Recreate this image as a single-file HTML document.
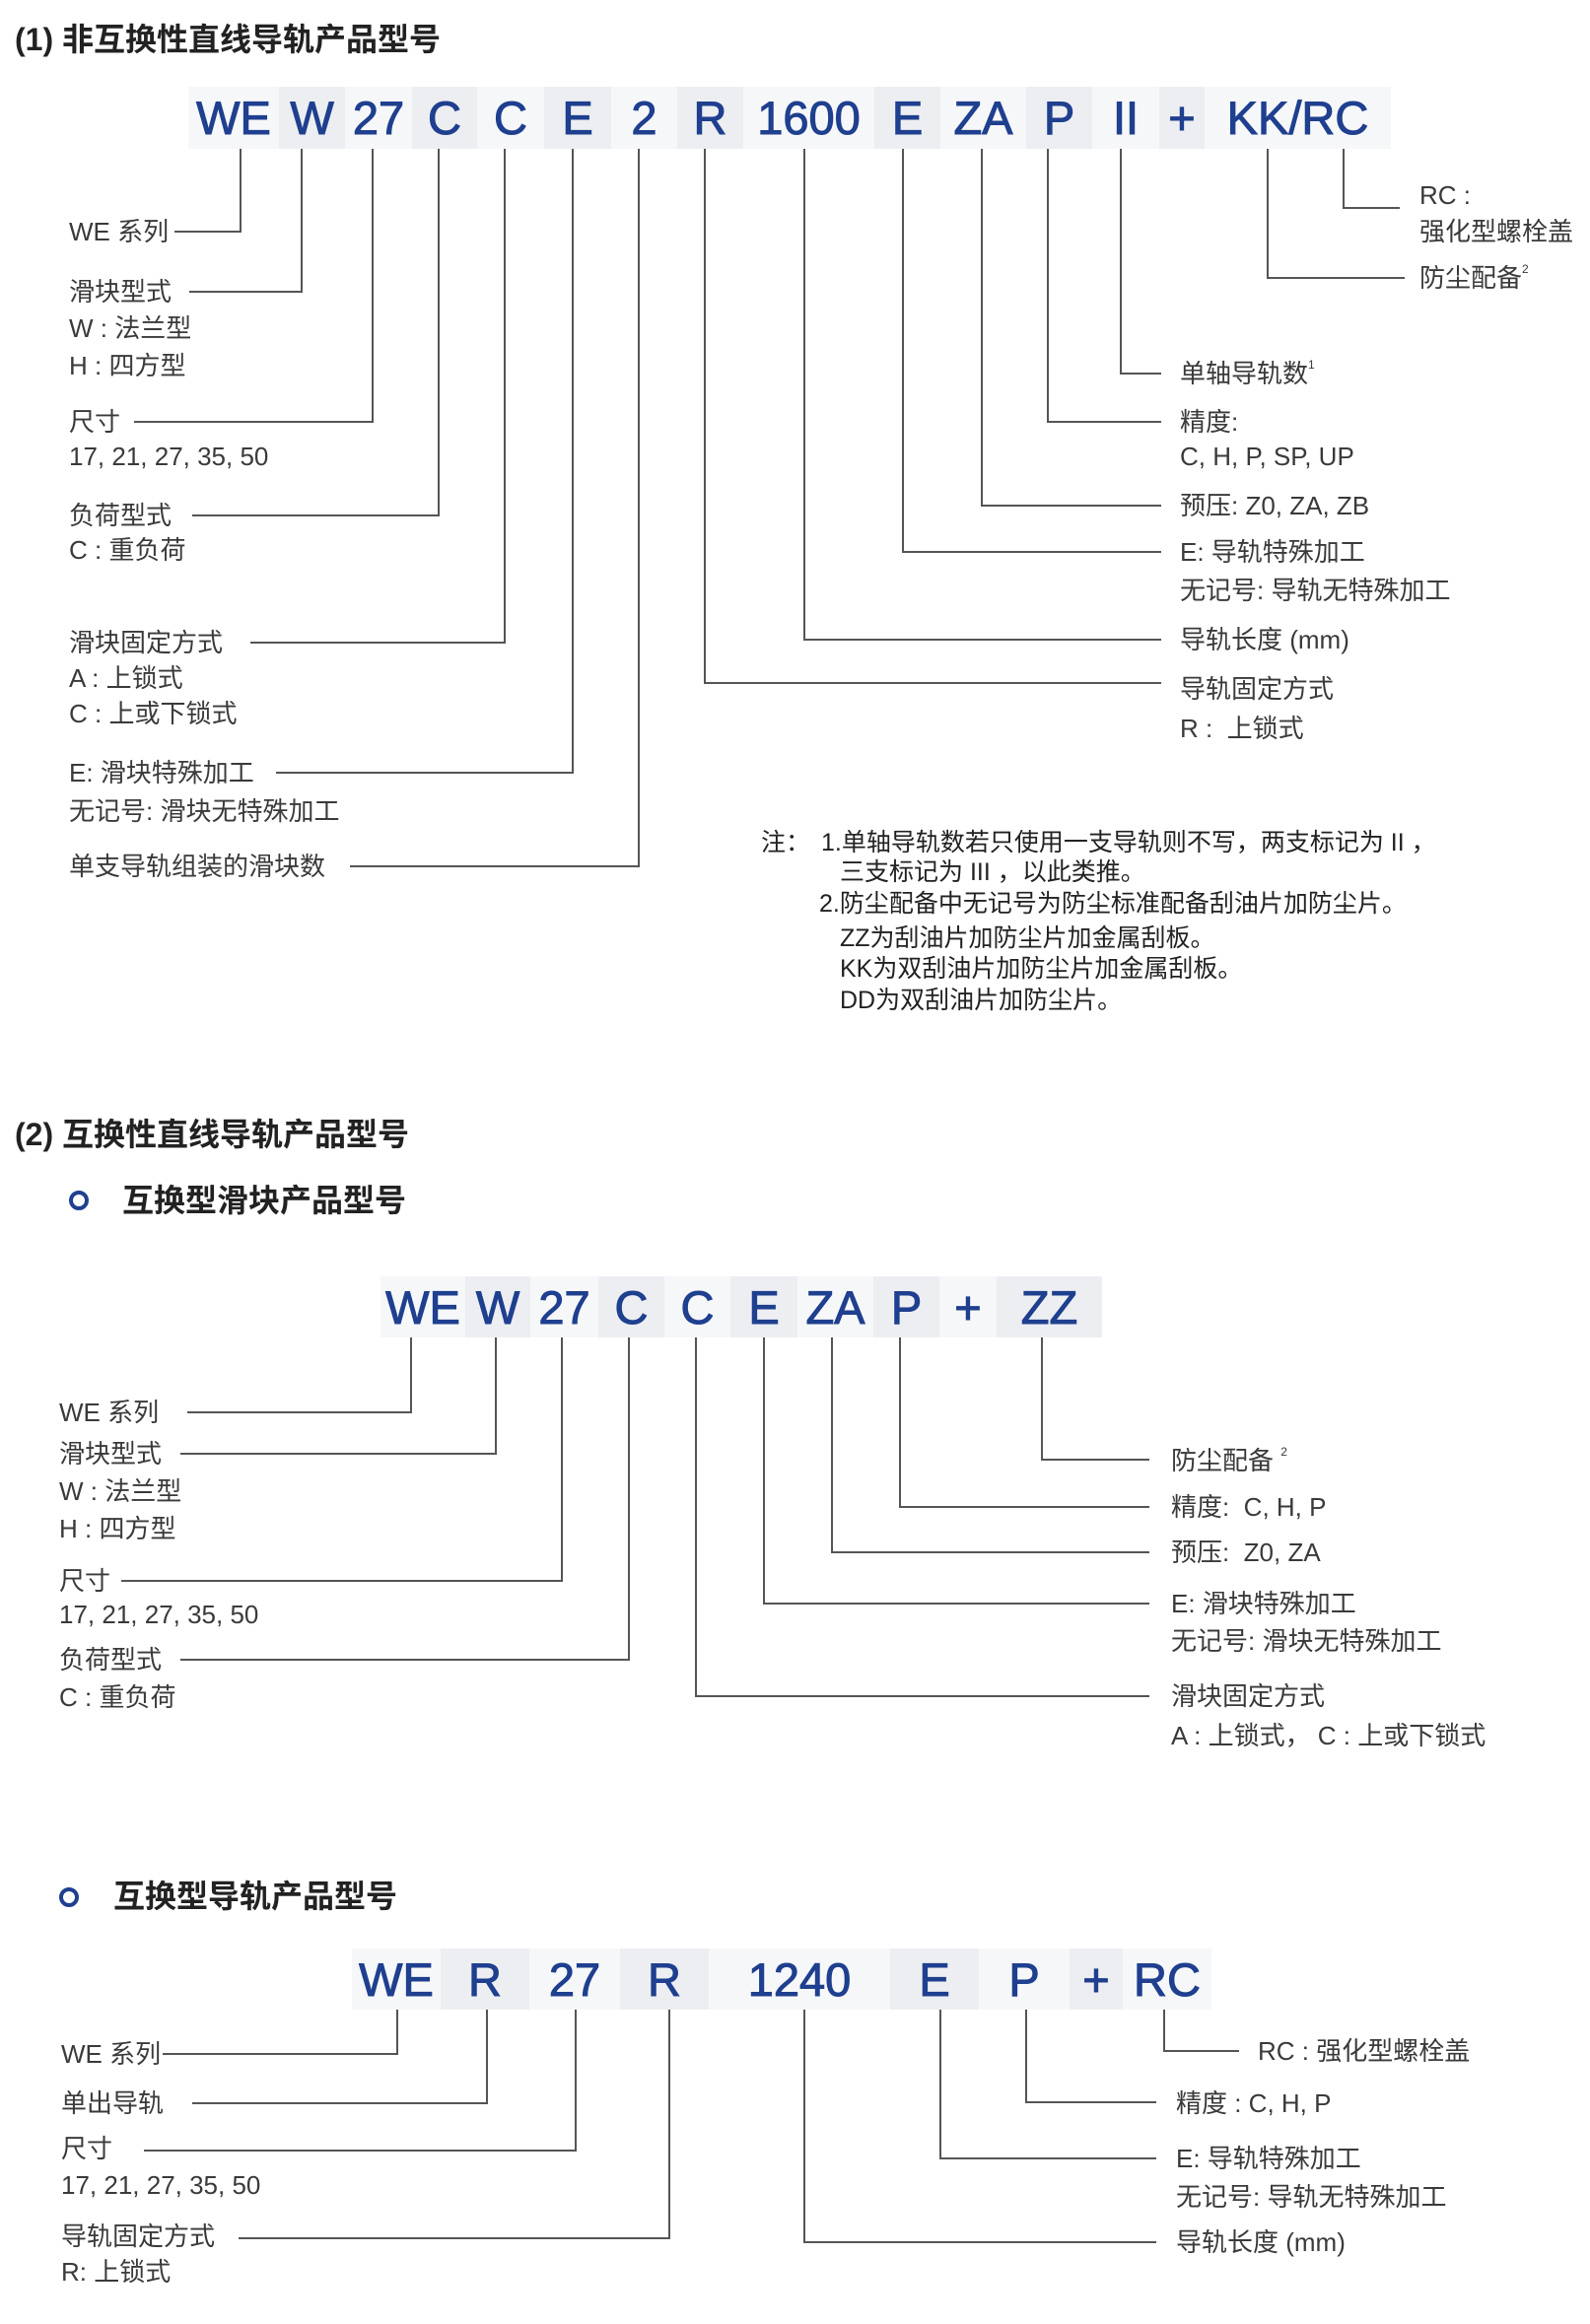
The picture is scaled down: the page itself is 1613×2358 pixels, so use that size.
<!DOCTYPE html>
<html><head><meta charset="utf-8"><style>
*{margin:0;padding:0}
body{width:1613px;height:2358px;background:#fff;position:relative;overflow:hidden;font-family:"Liberation Sans","Noto Sans CJK SC",sans-serif;color:#333}
.t{position:absolute;font-size:26px;line-height:30px;white-space:nowrap;color:#3a3a3a}
.h{position:absolute;font-size:32px;line-height:40px;font-weight:bold;color:#222;white-space:nowrap}
.c{position:absolute;display:flex;align-items:center;justify-content:center;font-size:47px;color:#1f3f8f;-webkit-text-stroke:1px #1f3f8f}
.g{background:#eceef1}.l{background:#f6f7f9}
.ring{position:absolute;width:12px;height:12px;border:4px solid #1f3f8f;border-radius:50%}
.n{position:absolute;font-size:25px;line-height:30px;white-space:nowrap;color:#222}
sup{font-size:12px;vertical-align:top;line-height:12px}
</style></head><body>
<div class="h" style="left:15px;top:20px">(1) 非互换性直线导轨产品型号</div>
<div class="c l" style="left:191px;top:88px;width:92px;height:63px">WE</div>
<div class="c g" style="left:283px;top:88px;width:67px;height:63px">W</div>
<div class="c l" style="left:350px;top:88px;width:68px;height:63px">27</div>
<div class="c g" style="left:418px;top:88px;width:66px;height:63px">C</div>
<div class="c l" style="left:484px;top:88px;width:68px;height:63px">C</div>
<div class="c g" style="left:552px;top:88px;width:68px;height:63px">E</div>
<div class="c l" style="left:620px;top:88px;width:67px;height:63px">2</div>
<div class="c g" style="left:687px;top:88px;width:67px;height:63px">R</div>
<div class="c l" style="left:754px;top:88px;width:133px;height:63px">1600</div>
<div class="c g" style="left:887px;top:88px;width:67px;height:63px">E</div>
<div class="c l" style="left:954px;top:88px;width:87px;height:63px">ZA</div>
<div class="c g" style="left:1041px;top:88px;width:67px;height:63px">P</div>
<div class="c l" style="left:1108px;top:88px;width:68px;height:63px">II</div>
<div class="c g" style="left:1176px;top:88px;width:46px;height:63px">+</div>
<div class="c l" style="left:1222px;top:88px;width:189px;height:63px">KK/RC</div>

<div class="t" style="left:70px;top:220px">WE 系列</div>
<div class="t" style="left:70px;top:281px">滑块型式</div>
<div class="t" style="left:70px;top:318px">W : 法兰型</div>
<div class="t" style="left:70px;top:356px">H : 四方型</div>
<div class="t" style="left:70px;top:413px">尺寸</div>
<div class="t" style="left:70px;top:448px">17, 21, 27, 35, 50</div>
<div class="t" style="left:70px;top:508px">负荷型式</div>
<div class="t" style="left:70px;top:543px">C : 重负荷</div>
<div class="t" style="left:70px;top:637px">滑块固定方式</div>
<div class="t" style="left:70px;top:673px">A : 上锁式</div>
<div class="t" style="left:70px;top:709px">C : 上或下锁式</div>
<div class="t" style="left:70px;top:769px">E: 滑块特殊加工</div>
<div class="t" style="left:70px;top:808px">无记号: 滑块无特殊加工</div>
<div class="t" style="left:70px;top:864px">单支导轨组装的滑块数</div>

<div class="t" style="left:1440px;top:183px">RC :</div>
<div class="t" style="left:1440px;top:220px">强化型螺栓盖</div>
<div class="t" style="left:1440px;top:267px">防尘配备<sup>2</sup></div>
<div class="t" style="left:1197px;top:364px">单轴导轨数<sup>1</sup></div>
<div class="t" style="left:1197px;top:413px">精度:</div>
<div class="t" style="left:1197px;top:448px">C, H, P, SP, UP</div>
<div class="t" style="left:1197px;top:498px">预压: Z0, ZA, ZB</div>
<div class="t" style="left:1197px;top:545px">E: 导轨特殊加工</div>
<div class="t" style="left:1197px;top:584px">无记号: 导轨无特殊加工</div>
<div class="t" style="left:1197px;top:634px">导轨长度 (mm)</div>
<div class="t" style="left:1197px;top:684px">导轨固定方式</div>
<div class="t" style="left:1197px;top:724px">R :&nbsp; 上锁式</div>

<div class="n" style="left:772px;top:840px">注：</div>
<div class="n" style="left:833px;top:840px">1.单轴导轨数若只使用一支导轨则不写，两支标记为 II ，</div>
<div class="n" style="left:852px;top:870px">三支标记为 III ，以此类推。</div>
<div class="n" style="left:831px;top:902px">2.防尘配备中无记号为防尘标准配备刮油片加防尘片。</div>
<div class="n" style="left:852px;top:937px">ZZ为刮油片加防尘片加金属刮板。</div>
<div class="n" style="left:852px;top:968px">KK为双刮油片加防尘片加金属刮板。</div>
<div class="n" style="left:852px;top:1000px">DD为双刮油片加防尘片。</div>

<div class="h" style="left:15px;top:1131px">(2) 互换性直线导轨产品型号</div>
<div class="ring" style="left:70px;top:1208px"></div>
<div class="h" style="left:124px;top:1198px">互换型滑块产品型号</div>
<div class="c l" style="left:386px;top:1295px;width:86px;height:62px">WE</div>
<div class="c g" style="left:472px;top:1295px;width:66px;height:62px">W</div>
<div class="c l" style="left:538px;top:1295px;width:69px;height:62px">27</div>
<div class="c g" style="left:607px;top:1295px;width:67px;height:62px">C</div>
<div class="c l" style="left:674px;top:1295px;width:67px;height:62px">C</div>
<div class="c g" style="left:741px;top:1295px;width:68px;height:62px">E</div>
<div class="c l" style="left:809px;top:1295px;width:77px;height:62px">ZA</div>
<div class="c g" style="left:886px;top:1295px;width:67px;height:62px">P</div>
<div class="c l" style="left:953px;top:1295px;width:58px;height:62px">+</div>
<div class="c g" style="left:1011px;top:1295px;width:107px;height:62px">ZZ</div>

<div class="t" style="left:60px;top:1418px">WE 系列</div>
<div class="t" style="left:60px;top:1460px">滑块型式</div>
<div class="t" style="left:60px;top:1498px">W : 法兰型</div>
<div class="t" style="left:60px;top:1536px">H : 四方型</div>
<div class="t" style="left:60px;top:1589px">尺寸</div>
<div class="t" style="left:60px;top:1623px">17, 21, 27, 35, 50</div>
<div class="t" style="left:60px;top:1669px">负荷型式</div>
<div class="t" style="left:60px;top:1707px">C : 重负荷</div>
<div class="t" style="left:1188px;top:1467px">防尘配备 <sup>2</sup></div>
<div class="t" style="left:1188px;top:1514px">精度:&nbsp; C, H, P</div>
<div class="t" style="left:1188px;top:1560px">预压:&nbsp; Z0, ZA</div>
<div class="t" style="left:1188px;top:1612px">E: 滑块特殊加工</div>
<div class="t" style="left:1188px;top:1650px">无记号: 滑块无特殊加工</div>
<div class="t" style="left:1188px;top:1706px">滑块固定方式</div>
<div class="t" style="left:1188px;top:1746px">A : 上锁式， C : 上或下锁式</div>

<div class="ring" style="left:60px;top:1915px"></div>
<div class="h" style="left:115px;top:1904px">互换型导轨产品型号</div>
<div class="c l" style="left:357px;top:1977px;width:90px;height:62px">WE</div>
<div class="c g" style="left:447px;top:1977px;width:90px;height:62px">R</div>
<div class="c l" style="left:537px;top:1977px;width:92px;height:62px">27</div>
<div class="c g" style="left:629px;top:1977px;width:90px;height:62px">R</div>
<div class="c l" style="left:719px;top:1977px;width:184px;height:62px">1240</div>
<div class="c g" style="left:903px;top:1977px;width:90px;height:62px">E</div>
<div class="c l" style="left:993px;top:1977px;width:92px;height:62px">P</div>
<div class="c g" style="left:1085px;top:1977px;width:54px;height:62px">+</div>
<div class="c l" style="left:1139px;top:1977px;width:90px;height:62px">RC</div>

<div class="t" style="left:62px;top:2069px">WE 系列</div>
<div class="t" style="left:62px;top:2119px">单出导轨</div>
<div class="t" style="left:62px;top:2165px">尺寸</div>
<div class="t" style="left:62px;top:2202px">17, 21, 27, 35, 50</div>
<div class="t" style="left:62px;top:2254px">导轨固定方式</div>
<div class="t" style="left:62px;top:2290px">R: 上锁式</div>
<div class="t" style="left:1276px;top:2066px">RC : 强化型螺栓盖</div>
<div class="t" style="left:1193px;top:2119px">精度 : C, H, P</div>
<div class="t" style="left:1193px;top:2175px">E: 导轨特殊加工</div>
<div class="t" style="left:1193px;top:2214px">无记号: 导轨无特殊加工</div>
<div class="t" style="left:1193px;top:2260px">导轨长度 (mm)</div>

<svg width="1613" height="2358" style="position:absolute;left:0;top:0" fill="none" stroke="#555" stroke-width="2">
<polyline points="244,151 244,235 177,235"/>
<polyline points="306,151 306,296 192,296"/>
<polyline points="378,151 378,428 136,428"/>
<polyline points="445,151 445,523 195,523"/>
<polyline points="512,151 512,652 254,652"/>
<polyline points="581,151 581,784 280,784"/>
<polyline points="648,151 648,879 355,879"/>
<polyline points="715,151 715,693 1178,693"/>
<polyline points="816,151 816,649 1178,649"/>
<polyline points="916,151 916,560 1178,560"/>
<polyline points="996,151 996,513 1178,513"/>
<polyline points="1063,151 1063,428 1178,428"/>
<polyline points="1137,151 1137,379 1178,379"/>
<polyline points="1286,151 1286,282 1425,282"/>
<polyline points="1363,151 1363,211 1420,211"/>

<polyline points="417,1357 417,1433 190,1433"/>
<polyline points="503,1357 503,1475 183,1475"/>
<polyline points="570,1357 570,1604 123,1604"/>
<polyline points="638,1357 638,1684 183,1684"/>
<polyline points="706,1357 706,1721 1166,1721"/>
<polyline points="775,1357 775,1627 1166,1627"/>
<polyline points="844,1357 844,1575 1166,1575"/>
<polyline points="913,1357 913,1529 1166,1529"/>
<polyline points="1057,1357 1057,1481 1166,1481"/>

<polyline points="403,2039 403,2084 165,2084"/>
<polyline points="494,2039 494,2134 195,2134"/>
<polyline points="584,2039 584,2182 146,2182"/>
<polyline points="679,2039 679,2271 242,2271"/>
<polyline points="816,2039 816,2275 1173,2275"/>
<polyline points="954,2039 954,2190 1173,2190"/>
<polyline points="1041,2039 1041,2133 1173,2133"/>
<polyline points="1181,2039 1181,2081 1257,2081"/>
</svg>
</body></html>
